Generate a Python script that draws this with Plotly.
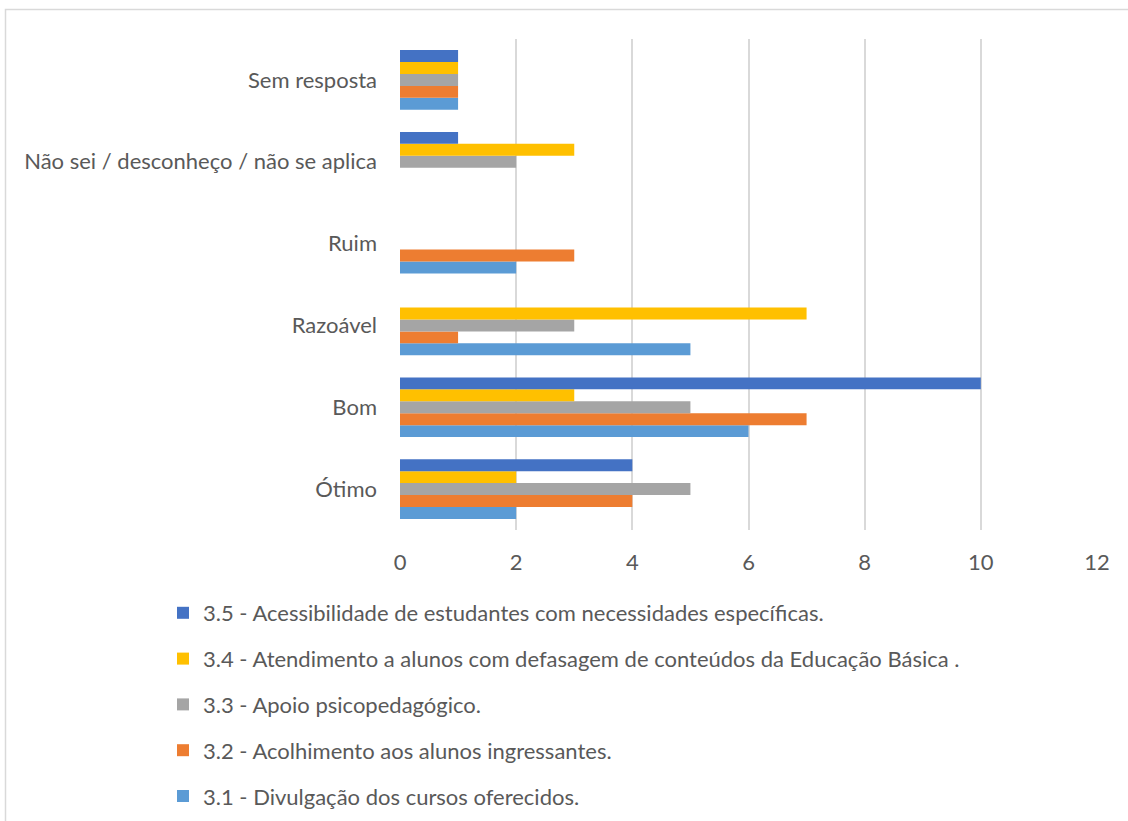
import plotly.graph_objects as go

categories = ["Ótimo", "Bom", "Razoável", "Ruim", "Não sei / desconheço / não se aplica", "Sem resposta"]
series_names = [
    "3.1 - Divulgação dos cursos oferecidos.",
    "3.2 - Acolhimento aos alunos ingressantes.",
    "3.3 - Apoio psicopedagógico.",
    "3.4 - Atendimento a alunos com defasagem de conteúdos da Educação Básica .",
    "3.5 - Acessibilidade de estudantes com necessidades específicas.",
]
s31 = [2, 6, 5, 2, 0, 1]
s32 = [4, 7, 1, 3, 0, 1]
s33 = [5, 5, 3, 0, 2, 1]
s34 = [2, 3, 7, 0, 3, 1]
s35 = [4, 10, 0, 0, 1, 1]
series_values = [s31, s32, s33, s34, s35]
colors = ["#5B9BD5", "#ED7D31", "#A5A5A5", "#FFC000", "#4472C4"]
x_ticks = [0, 2, 4, 6, 8, 10, 12]

FONT = "Lato"
TXT = "#595959"

fig = go.Figure()
n = len(series_names)
for i, (name, vals, col) in enumerate(zip(series_names, series_values, colors)):
    fig.add_trace(go.Bar(
        y=categories, x=vals, name=name, orientation="h",
        marker=dict(color=col, line=dict(width=0)),
        legendgroup="g%d" % i,
        legendrank=n - i,
    ))

fig.update_layout(
    width=1128, height=821,
    paper_bgcolor="white", plot_bgcolor="white",
    barmode="group", bargap=0.27, bargroupgap=0,
    margin=dict(l=400, r=31, t=39, b=291, autoexpand=False),
    font=dict(family=FONT, size=22, color=TXT),
    showlegend=True,
    legend=dict(
        traceorder="grouped",
        orientation="v",
        x=(163 - 400) / 697, y=(530 - 592) / 491, xanchor="left", yanchor="top",
        font=dict(family=FONT, size=22, color=TXT),
        tracegroupgap=14.2,
        itemwidth=30,
        bgcolor="rgba(0,0,0,0)",
    ),
    xaxis=dict(
        range=[0, 12], tickvals=x_ticks, showgrid=True,
        gridcolor="#D9D9D9", gridwidth=1.5, zeroline=False,
        showline=False, ticks="", ticklabelstandoff=17, automargin=False,
        tickfont=dict(family=FONT, size=22, color=TXT),
    ),
    yaxis=dict(
        categoryorder="array", categoryarray=categories,
        showgrid=False, zeroline=False, showline=False, ticks="",
        ticklabelstandoff=22, automargin=False,
        tickfont=dict(family=FONT, size=22, color=TXT),
    ),
    shapes=[dict(
        type="rect", xref="paper", yref="paper",
        x0=(5.5 - 400) / 697, x1=1.2, y0=-1.0, y1=(530 - 9.5) / 491,
        line=dict(color="#D9D9D9", width=1.5), fillcolor="rgba(0,0,0,0)", layer="below",
    )],
)

fig.write_html(
    "out.html",
    config={"displayModeBar": False},
    post_script="document.body.style.margin='0';document.body.style.overflow='hidden';",
)
